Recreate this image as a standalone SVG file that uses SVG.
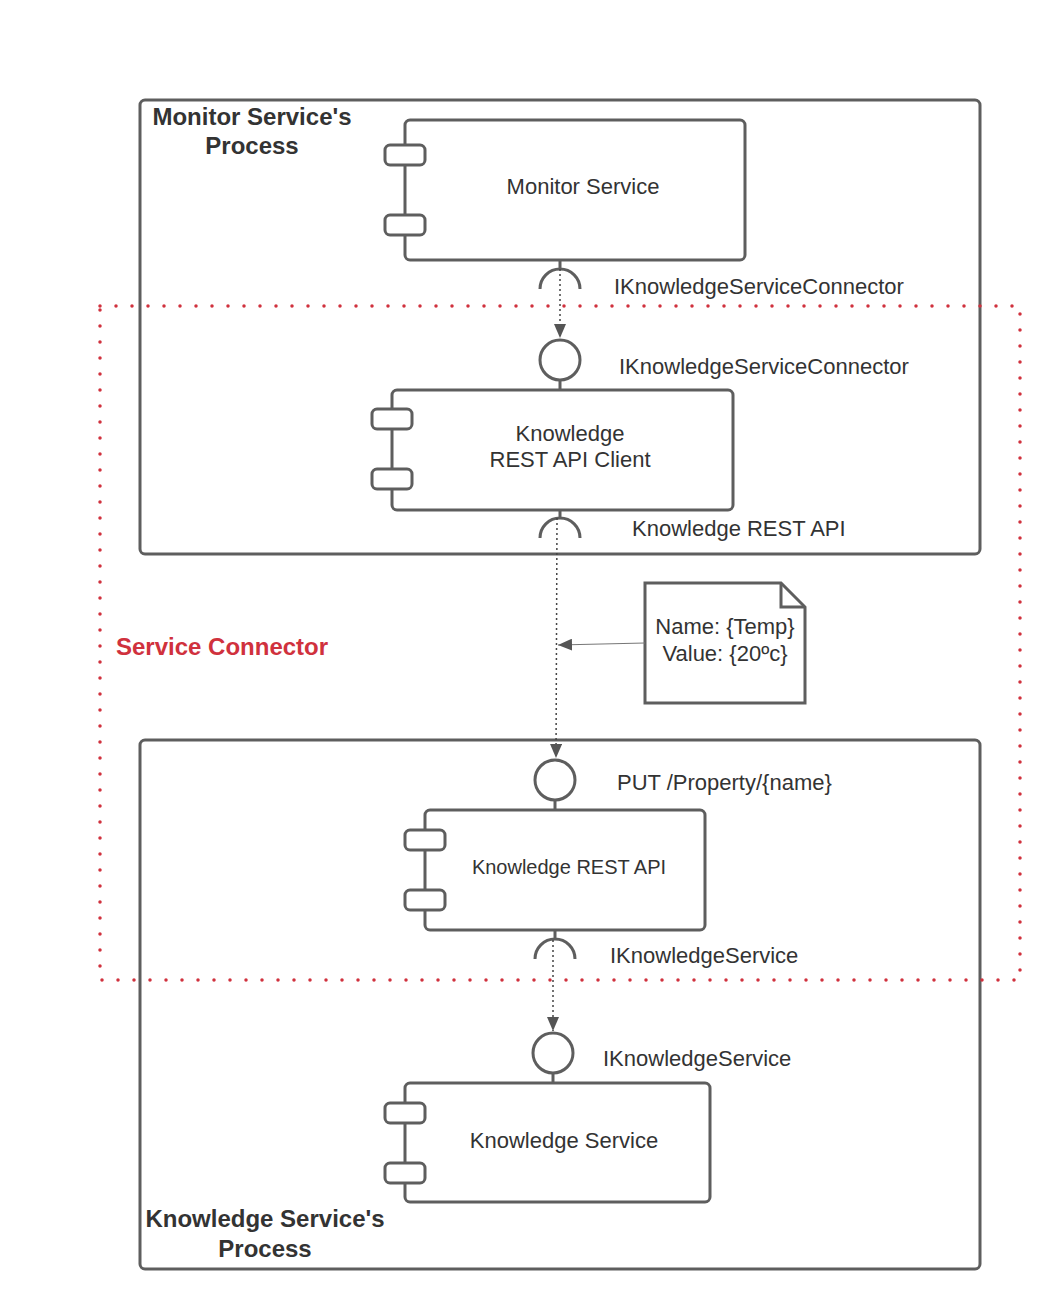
<svg xmlns="http://www.w3.org/2000/svg" width="1062" height="1312" viewBox="0 0 1062 1312">
<defs>
<style>
.box{fill:#fff;stroke:#5e5e5e;stroke-width:3}
.ln{fill:none;stroke:#5e5e5e;stroke-width:3}
.dot{fill:none;stroke:#444;stroke-width:1.5;stroke-dasharray:2 3}
.t{font-family:"Liberation Sans",Arial,sans-serif;font-size:22px;fill:#333}
.b{font-family:"Liberation Sans",Arial,sans-serif;font-size:24px;font-weight:bold;fill:#333}
.c{text-anchor:middle}
.red{fill:none;stroke:#d0313d;stroke-width:3.5;stroke-linecap:round;stroke-dasharray:0 16}
</style>
<marker id="ah" viewBox="0 0 14 12" refX="14" refY="6" markerWidth="14" markerHeight="12" markerUnits="userSpaceOnUse" orient="auto">
<path d="M0,0 L14,6 L0,12 Z" fill="#555"/>
</marker>
</defs>
<rect width="1062" height="1312" fill="#fff"/>

<g id="monitor-process">
<rect class="box" x="140" y="100" width="840" height="454" rx="5"/>
<text class="b c" x="252" y="125">Monitor Service's</text>
<text class="b c" x="252" y="154">Process</text>
</g>

<g id="knowledge-process">
<rect class="box" x="140" y="740" width="840" height="529" rx="5"/>
<text class="b c" x="265" y="1227">Knowledge Service's</text>
<text class="b c" x="265" y="1257">Process</text>
</g>

<g id="service-connector">
<rect class="red" x="100" y="306" width="920" height="674"/>
<text class="b" x="116" y="655" style="fill:#d0313d">Service Connector</text>
</g>

<g id="monitor-service">
<rect class="box" x="405" y="120" width="340" height="140" rx="5"/>
<rect class="box" x="385" y="145" width="40" height="20" rx="5"/>
<rect class="box" x="385" y="215" width="40" height="20" rx="5"/>
<text class="t c" x="583" y="194">Monitor Service</text>
<path class="ln" d="M560,260 V269 M540,289 A20,20 0 0 1 580,289"/>
<text class="t" x="614" y="294">IKnowledgeServiceConnector</text>
</g>

<g id="knowledge-rest-api-client">
<circle class="box" cx="560" cy="360" r="20"/>
<path class="ln" d="M560,380 V390"/>
<text class="t" x="619" y="374">IKnowledgeServiceConnector</text>
<rect class="box" x="392" y="390" width="341" height="120" rx="5"/>
<rect class="box" x="372" y="409" width="40" height="20" rx="5"/>
<rect class="box" x="372" y="469" width="40" height="20" rx="5"/>
<text class="t c" x="570" y="441">Knowledge</text>
<text class="t c" x="570" y="467">REST API Client</text>
<path class="ln" d="M560,510 V518 M540,538 A20,20 0 0 1 580,538"/>
<text class="t" x="632" y="536">Knowledge REST API</text>
</g>

<g id="knowledge-rest-api">
<circle class="box" cx="555" cy="780" r="20"/>
<path class="ln" d="M555,800 V810"/>
<text class="t" x="617" y="790">PUT /Property/{name}</text>
<rect class="box" x="425" y="810" width="280" height="120" rx="5"/>
<rect class="box" x="405" y="830" width="40" height="20" rx="5"/>
<rect class="box" x="405" y="890" width="40" height="20" rx="5"/>
<text class="t c" x="569" y="874" style="font-size:20px">Knowledge REST API</text>
<path class="ln" d="M555,930 V940 M535,959 A20,20 0 0 1 575,959"/>
<text class="t" x="610" y="963">IKnowledgeService</text>
</g>

<g id="knowledge-service">
<circle class="box" cx="553" cy="1053" r="20"/>
<path class="ln" d="M553,1073 V1083"/>
<text class="t" x="603" y="1066">IKnowledgeService</text>
<rect class="box" x="405" y="1083" width="305" height="119" rx="5"/>
<rect class="box" x="385" y="1103" width="40" height="20" rx="5"/>
<rect class="box" x="385" y="1163" width="40" height="20" rx="5"/>
<text class="t c" x="564" y="1148">Knowledge Service</text>
</g>

<g id="note">
<path class="box" d="M645,583 H781 L805,607 V703 H645 Z"/>
<path class="ln" d="M781,583 V607 H805"/>
<text class="t c" x="725" y="634">Name: {Temp}</text>
<text class="t c" x="725" y="661">Value: {20ºc}</text>
</g>

<g id="connectors">
<path class="dot" d="M560,269 V338" marker-end="url(#ah)"/>
<path class="dot" d="M557,518 L556,758" marker-end="url(#ah)"/>
<path class="dot" d="M553,940 V1031" marker-end="url(#ah)"/>
<path d="M645,643 L558,645" fill="none" stroke="#777" stroke-width="1.2" marker-end="url(#ah)"/>
</g>
</svg>
